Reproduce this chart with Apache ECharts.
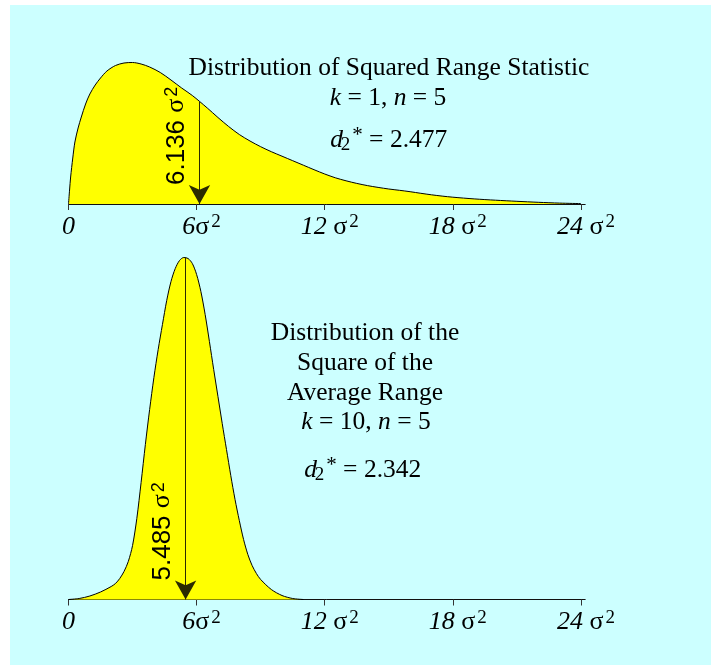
<!DOCTYPE html>
<html>
<head>
<meta charset="utf-8">
<script src="https://cdn.jsdelivr.net/npm/echarts@6/dist/echarts.min.js"></script>
<style>
html, body { margin: 0; padding: 0; background: #fff; }
#chart { width: 711px; height: 666px; }
</style>
</head>
<body>
<div id="chart"></div>
<script>
// Density of the squared range, k = 1, n = 5 (x in units of sigma^2)
const rangeX = [0, 0.05, 0.1, 0.2, 0.3, 0.45, 0.6, 0.8, 1.0, 1.25, 1.5, 1.8, 2.2, 2.6, 3.0, 3.4, 3.8, 4.3, 4.8, 5.3, 5.8,
  6.5, 7.0, 7.5, 8.0, 8.5, 9.0, 9.5, 10.0, 10.5, 11.0, 11.5, 12.0, 12.5, 13.0, 13.5, 14.0, 14.5, 15.0, 15.5, 16.0,
  16.5, 17.0, 17.5, 18.0, 19.0, 20.0, 21.0, 22.0, 23.0, 24.0];
const rangeY = [0, 0.014, 0.027, 0.046, 0.062, 0.076, 0.087, 0.100, 0.110, 0.119, 0.126, 0.133, 0.1385, 0.141, 0.1415,
  0.140, 0.137, 0.1315, 0.124, 0.116, 0.1085, 0.096, 0.0865, 0.0775, 0.0695, 0.063, 0.0573, 0.0523, 0.0478, 0.0433,
  0.0388, 0.0343, 0.030, 0.0262, 0.0232, 0.0206, 0.0184, 0.0166, 0.015, 0.0137, 0.0123, 0.0107, 0.0092, 0.0079, 0.0068,
  0.0051, 0.0038, 0.0027, 0.0017, 0.0009, 0.0004];

// Density of the square of the average range, k = 10, n = 5
const avgX = [0, 0.5, 1.0, 1.5, 2.0, 2.2, 2.4, 2.6, 2.8, 3.0, 3.2, 3.4, 3.6, 3.8, 4.0, 4.2, 4.4, 4.6, 4.8, 5.0, 5.2,
  5.4, 5.6, 5.8, 6.0, 6.2, 6.4, 6.6, 6.8, 7.0, 7.2, 7.4, 7.6, 7.8, 8.0, 8.2, 8.4, 8.6, 8.8, 9.0, 9.5, 10.0, 10.5, 11.0];
const avgY = [0, 0.001, 0.0035, 0.0075, 0.013, 0.016, 0.021, 0.028, 0.038, 0.054, 0.081, 0.117, 0.155, 0.190, 0.222,
  0.250, 0.275, 0.299, 0.318, 0.331, 0.339, 0.342, 0.341, 0.336, 0.325, 0.308, 0.285, 0.258, 0.230, 0.203, 0.176,
  0.150, 0.124, 0.100, 0.079, 0.060, 0.045, 0.034, 0.026, 0.020, 0.010, 0.004, 0.001, 0];

// Axis ticks and their labels (number part; sigma^2 is appended)
const tickValues = [0, 6, 12, 18, 24];
const tickLabels = ['0', '6', '12 ', '18 ', '24 '];

// Expected values marked by the arrows
const meanRange = 6.136;
const meanAvg = 5.485;
const meanRangeText = '6.136 ';
const meanAvgText = '5.485 ';

const SERIF = '"Liberation Serif", "DejaVu Serif", serif';
const SANS = '"Liberation Sans", Arial, sans-serif';

function pairs(xs, ys) { return xs.map((x, i) => [x, ys[i]]); }

// density at x by linear interpolation between the listed points
function heightAt(xs, ys, x) {
  for (let i = 1; i < xs.length; i++) {
    if (x <= xs[i]) {
      const t = (x - xs[i - 1]) / (xs[i] - xs[i - 1]);
      return ys[i - 1] + t * (ys[i] - ys[i - 1]);
    }
  }
  return ys[ys.length - 1];
}

const tickRich = {
  g: { width: 10 },
  n: { fontFamily: SERIF, fontStyle: 'italic', fontSize: 26, color: '#000', lineHeight: 28 },
  s: { fontFamily: SERIF, fontSize: 26, color: '#000', lineHeight: 28 },
  p: { fontFamily: SERIF, fontSize: 19, color: '#000', lineHeight: 20, verticalAlign: 'top', padding: [0, 0, 0, 2] }
};

function tickFormatter(v) {
  const i = tickValues.indexOf(v);
  if (i < 0) return '';
  if (v === 0) return '{n|' + tickLabels[i] + '}';
  return '{g|}{n|' + tickLabels[i] + '}{s|σ}{p|2}';
}

function xAxisFor(gridIndex) {
  return {
    gridIndex: gridIndex,
    type: 'value',
    min: 0,
    max: 24.2,
    axisLine: { show: true, onZero: false, lineStyle: { color: '#111', width: 1 } },
    axisTick: { show: true, length: 6, customValues: tickValues, lineStyle: { color: '#333', width: 1 } },
    axisLabel: { customValues: tickValues, formatter: tickFormatter, margin: 9, rich: tickRich },
    splitLine: { show: false }
  };
}

function yAxisFor(gridIndex, max) {
  return { gridIndex: gridIndex, type: 'value', min: 0, max: max, show: false };
}

const arrowRich = {
  t: { fontFamily: SANS, fontSize: 26, color: '#000' },
  s: { fontFamily: SERIF, fontSize: 26, color: '#000' },
  p: { fontFamily: SANS, fontSize: 18, color: '#000', verticalAlign: 'top', padding: [0, 0, 8, 2] }
};

function densitySeries(idx, xs, ys, mean, meanText) {
  return {
    type: 'line',
    xAxisIndex: idx,
    yAxisIndex: idx,
    data: pairs(xs, ys),
    smooth: 0.3,
    symbol: 'none',
    lineStyle: { color: '#000', width: 1 },
    areaStyle: { color: '#ffff00', opacity: 1 },
    markLine: {
      silent: true,
      symbol: ['arrow', 'none'],
      symbolSize: [16, 19],
      lineStyle: { color: '#2b2b00', width: 1, type: 'solid', opacity: 1 },
      itemStyle: { color: '#000' },
      label: {
        show: true,
        position: 'insideStartTop',
        distance: [19, 10],
        formatter: '{t|' + meanText + '}{s|σ}{p|2}',
        rich: arrowRich
      },
      data: [[{ coord: [mean, 0] }, { coord: [mean, heightAt(xs, ys, mean)] }]]
    }
  };
}

// Text blocks beside each curve
const topTitle = 'Distribution of Squared Range Statistic';
const topParams = ['k', '1', 'n', '5'];
const topD2 = '2.477';
const bottomTitle = ['Distribution of the', 'Square of the', 'Average Range'];
const bottomParams = ['k', '10', 'n', '5'];
const bottomD2 = '2.342';

const TXT = 25.5;
const textRich = {
  r: { fontFamily: SERIF, fontSize: TXT, color: '#000', lineHeight: 30 },
  i: { fontFamily: SERIF, fontStyle: 'italic', fontSize: TXT, color: '#000', lineHeight: 30 },
  dd: { fontFamily: SERIF, fontStyle: 'italic', fontSize: TXT, color: '#000', lineHeight: 30, width: 8 },
  sub: { fontFamily: SERIF, fontSize: 19, color: '#000', lineHeight: 17, verticalAlign: 'bottom' },
  sup: { fontFamily: SERIF, fontSize: 21, color: '#000', lineHeight: 18, verticalAlign: 'top', padding: [0, 0, 0, 2] }
};

function textEl(x, baseline, text) {
  return {
    type: 'text',
    x: x,
    y: baseline - 0.2 * TXT,
    silent: true,
    style: { text: text, rich: textRich, align: 'center', verticalAlign: 'middle' }
  };
}
function paramsText(p) {
  return '{i|' + p[0] + '}{r| = ' + p[1] + ', }{i|' + p[2] + '}{r| = ' + p[3] + '}';
}
function d2Text(v) {
  return '{dd|d}{sub|2}{sup|*}{r| = ' + v + '}';
}

const chart = echarts.init(document.getElementById('chart'), null, { renderer: 'canvas' });

chart.setOption({
  animation: false,
  backgroundColor: '#ffffff',
  grid: [
    { left: 68.5, top: 54, width: 516.7, height: 150, containLabel: false },
    { left: 68.5, top: 249.5, width: 516.7, height: 350, containLabel: false }
  ],
  xAxis: [xAxisFor(0), xAxisFor(1)],
  yAxis: [yAxisFor(0, 0.15), yAxisFor(1, 0.35)],
  series: [
    densitySeries(0, rangeX, rangeY, meanRange, meanRangeText),
    densitySeries(1, avgX, avgY, meanAvg, meanAvgText)
  ],
  graphic: [
    { type: 'rect', z: -10, silent: true, shape: { x: 10, y: 5, width: 701, height: 660 }, style: { fill: '#ccffff' } },
    textEl(389, 73, '{r|' + topTitle + '}'),
    textEl(388, 103, paramsText(topParams)),
    textEl(390, 145, d2Text(topD2)),
    textEl(365, 338, '{r|' + bottomTitle[0] + '}'),
    textEl(365, 368, '{r|' + bottomTitle[1] + '}'),
    textEl(365, 398, '{r|' + bottomTitle[2] + '}'),
    textEl(366, 427, paramsText(bottomParams)),
    textEl(364, 475, d2Text(bottomD2))
  ]
});
</script>
</body>
</html>
